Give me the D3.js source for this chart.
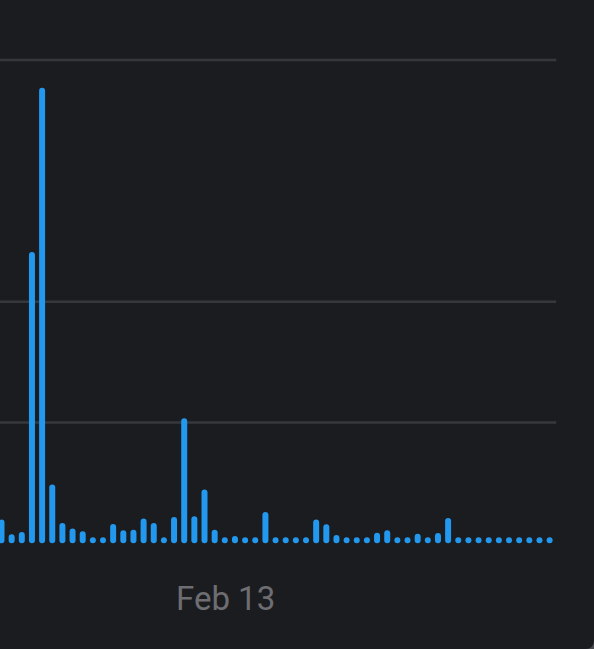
<!DOCTYPE html>
<html>
<head>
<meta charset="utf-8">
<script src="https://cdn.jsdelivr.net/npm/d3@7"></script>
<style>
  html, body { margin: 0; padding: 0; background: #1b1c20; overflow: hidden; }
  svg { display: block; }
</style>
</head>
<body>
<svg id="chart" width="594" height="649"></svg>
<script>
// ---- data ----
const values = [
  1.96, 0.75, 0.94, 24.1, 37.7, 4.86, 1.68, 1.22, 1.0, 0.2,
  0.2, 1.6, 1.08, 1.13, 2.05, 1.68, 0.25, 2.18, 10.35, 2.24,
  4.45, 1.13, 0.15, 0.6, 0.2, 0.2, 2.6, 0.45, 0.15, 0.45,
  0.2, 1.96, 1.57, 0.68, 0.35, 0.2, 0.1, 0.88, 1.08, 0.15,
  0.1, 0.8, 0.1, 0.85, 2.1, 0.2, 0.1, 0.1, 0.2, 0.1,
  0.3, 0.15, 0.15, 0.45, 0.05
];
const categories = values.map((_, i) => i);
const yTicks = [10, 20, 40];
const yMax = 40;
const xTickIndex = [22];
const xTickLabels = ["Feb 13"];

// ---- layout ----
const W = 594, H = 649;
const plotLeft = -3.575, plotRight = 554.7;
const plotBottom = 543.3, plotTop = 60;

const svg = d3.select("#chart");
svg.append("rect").attr("width", W).attr("height", H).attr("fill", "#1b1c20");

const x = d3.scaleBand().domain(categories).range([plotLeft, plotRight]).paddingInner(0.41).paddingOuter(0.205);
const y = d3.scaleLinear().domain([0, yMax]).range([plotBottom, plotTop]);

// gridlines
svg.append("g").selectAll("line").data(yTicks).join("line")
  .attr("x1", 0).attr("x2", plotRight + 1.5)
  .attr("y1", d => y(d)).attr("y2", d => y(d))
  .attr("stroke", "#37383c").attr("stroke-width", 2.5);

// bars
const bw = x.bandwidth();
svg.append("g").selectAll("rect").data(values).join("rect")
  .attr("x", (d, i) => x(categories[i]))
  .attr("width", bw)
  .attr("y", d => Math.min(y(d), plotBottom - bw))
  .attr("height", d => plotBottom - Math.min(y(d), plotBottom - bw))
  .attr("rx", bw / 2).attr("ry", bw / 2)
  .attr("fill", "#2299ee");

// x-axis labels
svg.append("g").selectAll("text").data(xTickIndex).join("text")
  .attr("x", d => x(categories[d]) + bw / 2 + 0.8)
  .attr("y", 610)
  .attr("text-anchor", "middle")
  .attr("font-family", "Roboto, 'Noto Sans', sans-serif")
  .attr("font-size", 33)
  .attr("fill", "#6d6d72")
  .text((d, i) => xTickLabels[i]);

// outer frame corner hint
svg.append("path")
  .attr("d", "M594,641 A8,8 0 0 1 586,649 L594,649 Z")
  .attr("fill", "#4a4b50");
</script>
</body>
</html>
